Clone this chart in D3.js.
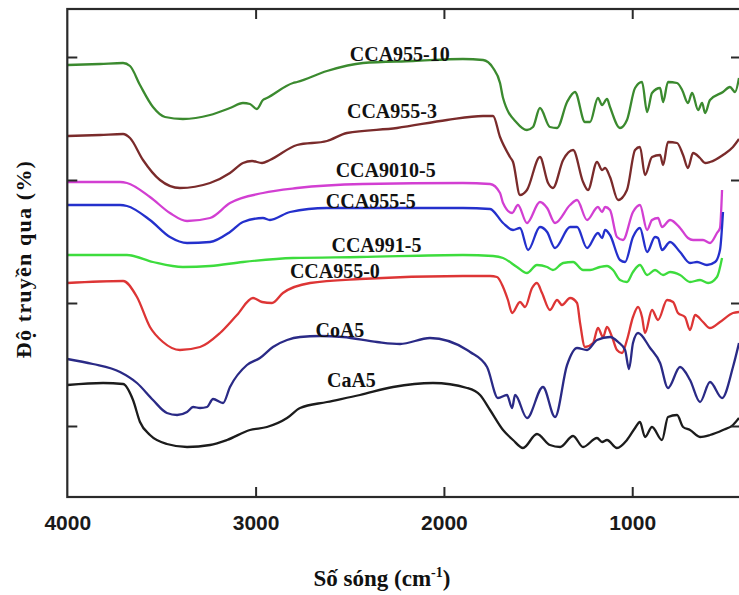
<!DOCTYPE html>
<html><head><meta charset="utf-8">
<script src="https://cdn.jsdelivr.net/npm/d3@7"></script>
<style>
html,body{margin:0;padding:0;background:#fff;}
svg{display:block;}
</style></head>
<body>
<svg id="chart" width="739" height="595"></svg>
<script>
// ---- data (wavenumber cm-1, transmittance in arbitrary offset units) ----
const xTicks = [4000, 3000, 2000, 1000];
const yTicks = [440, 317, 194, 71];

const seriesNames = ["CCA955-10","CCA955-3","CCA9010-5","CCA955-5","CCA991-5","CCA955-0","CoA5","CaA5"];
const seriesColors = ["#3b8a2f","#7a2b2b","#d23fd2","#2430cc","#3ddc3d","#dd3535","#2a2a86","#1c1c1c"];

const cca955_10 = [[4000,432],[3826,433],[3704,434],[3667,431],[3614,412],[3545,390],[3481,380],[3386,378],[3242,382],[3136,389],[3067,394],[3030,393],[2993,388],[2961,397],[2940,399],[2801,414],[2780,415],[2621,426],[2430,434],[2164,436],[1899,438],[1792,437],[1739,429],[1702,414],[1686,399],[1612,374],[1559,367],[1527,370],[1490,389],[1437,370],[1399,369],[1346,395],[1304,405],[1251,375],[1224,375],[1182,399],[1160,392],[1134,398],[1118,390],[1065,369],[1028,377],[985,409],[948,415],[921,385],[895,404],[852,409],[836,395],[810,415],[762,414],[735,407],[704,394],[682,404],[650,387],[629,394],[613,384],[587,397],[518,405],[481,410],[454,405],[433,419]];
const cca955_3 = [[4000,361],[3826,362],[3704,363],[3667,359],[3598,337],[3508,317],[3402,309],[3242,314],[3136,324],[3067,334],[3019,336],[2966,334],[2924,337],[2780,352],[2621,356],[2515,364],[2249,369],[1984,377],[1792,381],[1739,381],[1702,360],[1649,340],[1633,335],[1596,302],[1559,307],[1490,340],[1447,314],[1421,309],[1367,337],[1314,347],[1261,315],[1235,307],[1187,335],[1160,327],[1144,329],[1118,320],[1075,297],[1028,307],[985,347],[959,350],[932,322],[895,340],[852,342],[836,332],[810,355],[762,354],[730,342],[704,329],[677,344],[640,339],[613,334],[587,335],[518,342],[465,350],[433,358]];
const cca9010_5 = [[4000,315],[3720,315],[3683,314],[3561,300],[3455,284],[3364,276],[3242,279],[3136,294],[2961,304],[2780,309],[2430,313],[1899,314],[1755,313],[1702,304],[1686,294],[1638,284],[1607,292],[1559,274],[1490,295],[1452,289],[1410,274],[1330,292],[1293,297],[1240,277],[1182,290],[1160,285],[1144,290],[1118,287],[1081,260],[1049,257],[996,285],[959,292],[921,267],[895,277],[863,279],[842,270],[799,277],[746,269],[704,259],[677,257],[624,257],[587,254],[550,264],[534,269],[523,307]];
const cca955_5 = [[4000,292],[3720,292],[3683,291],[3561,277],[3455,260],[3364,254],[3242,255],[3136,265],[3067,275],[2961,279],[2924,277],[2817,285],[2621,289],[2430,289],[1899,289],[1755,288],[1686,274],[1633,267],[1596,269],[1553,247],[1490,270],[1452,265],[1410,249],[1330,270],[1293,270],[1240,249],[1182,264],[1160,259],[1144,267],[1118,262],[1065,237],[1038,235],[996,260],[959,269],[921,245],[879,260],[863,259],[842,247],[799,255],[746,245],[693,234],[656,235],[603,232],[560,235],[534,247],[518,285]];
const cca991_5 = [[4000,242],[3683,242],[3545,235],[3386,230],[3242,231],[3067,235],[2801,239],[2446,240],[1899,242],[1739,241],[1686,239],[1612,230],[1559,224],[1506,232],[1452,230],[1421,227],[1367,234],[1314,235],[1261,227],[1224,227],[1171,230],[1134,231],[1102,227],[1065,217],[1028,215],[996,225],[959,232],[921,222],[879,227],[836,222],[799,225],[746,222],[693,215],[640,217],[597,214],[550,220],[523,239]];
const cca955_0 = [[4000,214],[3704,216],[3630,200],[3561,170],[3492,155],[3402,147],[3295,150],[3189,164],[3099,182],[3014,199],[2966,195],[2913,194],[2855,204],[2711,214],[2446,218],[1899,221],[1755,221],[1718,220],[1686,210],[1660,197],[1638,184],[1596,195],[1569,190],[1532,209],[1506,214],[1479,204],[1437,187],[1399,197],[1373,192],[1330,199],[1293,194],[1277,174],[1251,150],[1208,154],[1182,169],[1155,160],[1134,170],[1107,160],[1081,147],[1054,144],[1028,157],[996,180],[969,190],[948,180],[932,164],[895,187],[863,177],[815,197],[783,195],[757,184],[720,180],[693,167],[666,182],[624,175],[587,169],[534,175],[465,184],[433,185]];
const coA5 = [[4000,138],[3864,133],[3720,125],[3630,114],[3545,97],[3471,84],[3417,82],[3364,85],[3332,90],[3295,89],[3258,90],[3226,98],[3173,94],[3136,110],[3046,132],[2977,139],[2908,150],[2833,157],[2764,160],[2658,161],[2536,160],[2355,155],[2233,153],[2074,159],[1877,147],[1861,145],[1771,130],[1713,99],[1665,102],[1638,89],[1622,102],[1559,79],[1474,110],[1410,80],[1346,132],[1293,149],[1240,147],[1187,157],[1118,160],[1075,155],[1038,147],[1017,128],[996,154],[969,164],[905,149],[852,134],[810,109],[746,130],[693,117],[640,95],[587,115],[523,99],[465,130],[433,154]];
const caA5 = [[4000,112],[3810,114],[3704,113],[3651,97],[3614,75],[3561,62],[3471,53],[3364,50],[3242,52],[3152,57],[3030,67],[2940,70],[2833,79],[2764,89],[2621,95],[2446,102],[2270,110],[2058,114],[1877,109],[1808,102],[1755,87],[1686,67],[1633,57],[1580,49],[1506,63],[1437,52],[1383,50],[1314,61],[1261,50],[1187,59],[1160,55],[1134,57],[1081,49],[1028,57],[985,69],[959,75],[932,60],[895,70],[842,57],[810,80],[762,82],[730,70],[693,67],[640,60],[587,62],[518,67],[465,72],[433,79]];

const seriesData = [cca955_10, cca955_3, cca9010_5, cca955_5, cca991_5, cca955_0, coA5, caA5];
// label anchor: [wavenumber, T] for text start
const labelPos = [[2500,436],[2515,379],[2575,320],[2627,289],[2597,245],[2818,219],[2682,160],[2621,110]];

const xLabel = "Số sóng (cm";
const xLabelSup = "-1";
const yLabel = "Độ truyền qua (%)";

// ---- drawing ----
const svg = d3.select("#chart");
const L = 67.3, R = 741, T = 9, B = 497;
const x = d3.scaleLinear().domain([4000, 433]).range([L, 739]);
const y = d3.scaleLinear().domain([0, 488]).range([B, T]);

svg.append("defs").append("clipPath").attr("id","clip")
  .append("rect").attr("x", L).attr("y", T).attr("width", R - L).attr("height", B - T);

const line = d3.line().x(d => x(d[0])).y(d => y(d[1])).curve(d3.curveMonotoneX);
const g = svg.append("g").attr("clip-path","url(#clip)");
seriesData.forEach((s, i) => {
  g.append("path").datum(s).attr("d", line)
    .attr("fill","none").attr("stroke", seriesColors[i])
    .attr("stroke-width", 2.3).attr("stroke-linejoin","round");
});

// frame
const axisColor = "#2a2a2a";
svg.append("rect").attr("x", L).attr("y", T).attr("width", R - L).attr("height", B - T)
  .attr("fill","none").attr("stroke", axisColor).attr("stroke-width", 2.2);

// axes
const axB = svg.append("g").attr("transform", `translate(0,${B})`)
  .call(d3.axisBottom(x).tickValues(xTicks).tickSize(-10).tickPadding(18).tickFormat(d3.format("d")));
const axT = svg.append("g").attr("transform", `translate(0,${T})`)
  .call(d3.axisTop(x).tickValues(xTicks.slice(1)).tickSize(-10).tickFormat(""));
const axL = svg.append("g").attr("transform", `translate(${L},0)`)
  .call(d3.axisLeft(y).tickValues(yTicks).tickSize(-10).tickFormat(""));
const axR = svg.append("g").attr("transform", `translate(${R},0)`)
  .call(d3.axisRight(y).tickValues(yTicks).tickSize(-10).tickFormat(""));
[axB, axT, axL, axR].forEach(a => {
  a.select(".domain").remove();
  a.selectAll(".tick line").attr("stroke", axisColor).attr("stroke-width", 2);
});
axB.selectAll(".tick").filter(d => d === 4000).select("line").remove();
axB.selectAll(".tick text")
  .attr("font-family","'Liberation Sans', Arial, sans-serif")
  .attr("font-weight","bold").attr("font-size", 21).attr("fill","#1a1a1a");

// series labels
seriesNames.forEach((n, i) => {
  svg.append("text").attr("x", x(labelPos[i][0])).attr("y", y(labelPos[i][1]))
    .attr("font-family","'Liberation Serif','Times New Roman',serif")
    .attr("font-weight","bold").attr("font-size", 20).attr("fill","#111")
    .text(n);
});

// axis titles
const xt = svg.append("text").attr("x", 382).attr("y", 586).attr("text-anchor","middle")
  .attr("font-family","'Liberation Serif','Times New Roman',serif")
  .attr("font-weight","bold").attr("font-size", 23).attr("fill","#111");
xt.append("tspan").text(xLabel);
xt.append("tspan").attr("font-size", 14).attr("dy", -9).text(xLabelSup);
xt.append("tspan").attr("dy", 9).text(")");

svg.append("text").attr("transform","translate(31,259) rotate(-90)").attr("text-anchor","middle")
  .attr("font-family","'Liberation Serif','Times New Roman',serif")
  .attr("font-weight","bold").attr("font-size", 22).attr("letter-spacing", 1.2).attr("fill","#111")
  .text(yLabel);
</script>
</body></html>
